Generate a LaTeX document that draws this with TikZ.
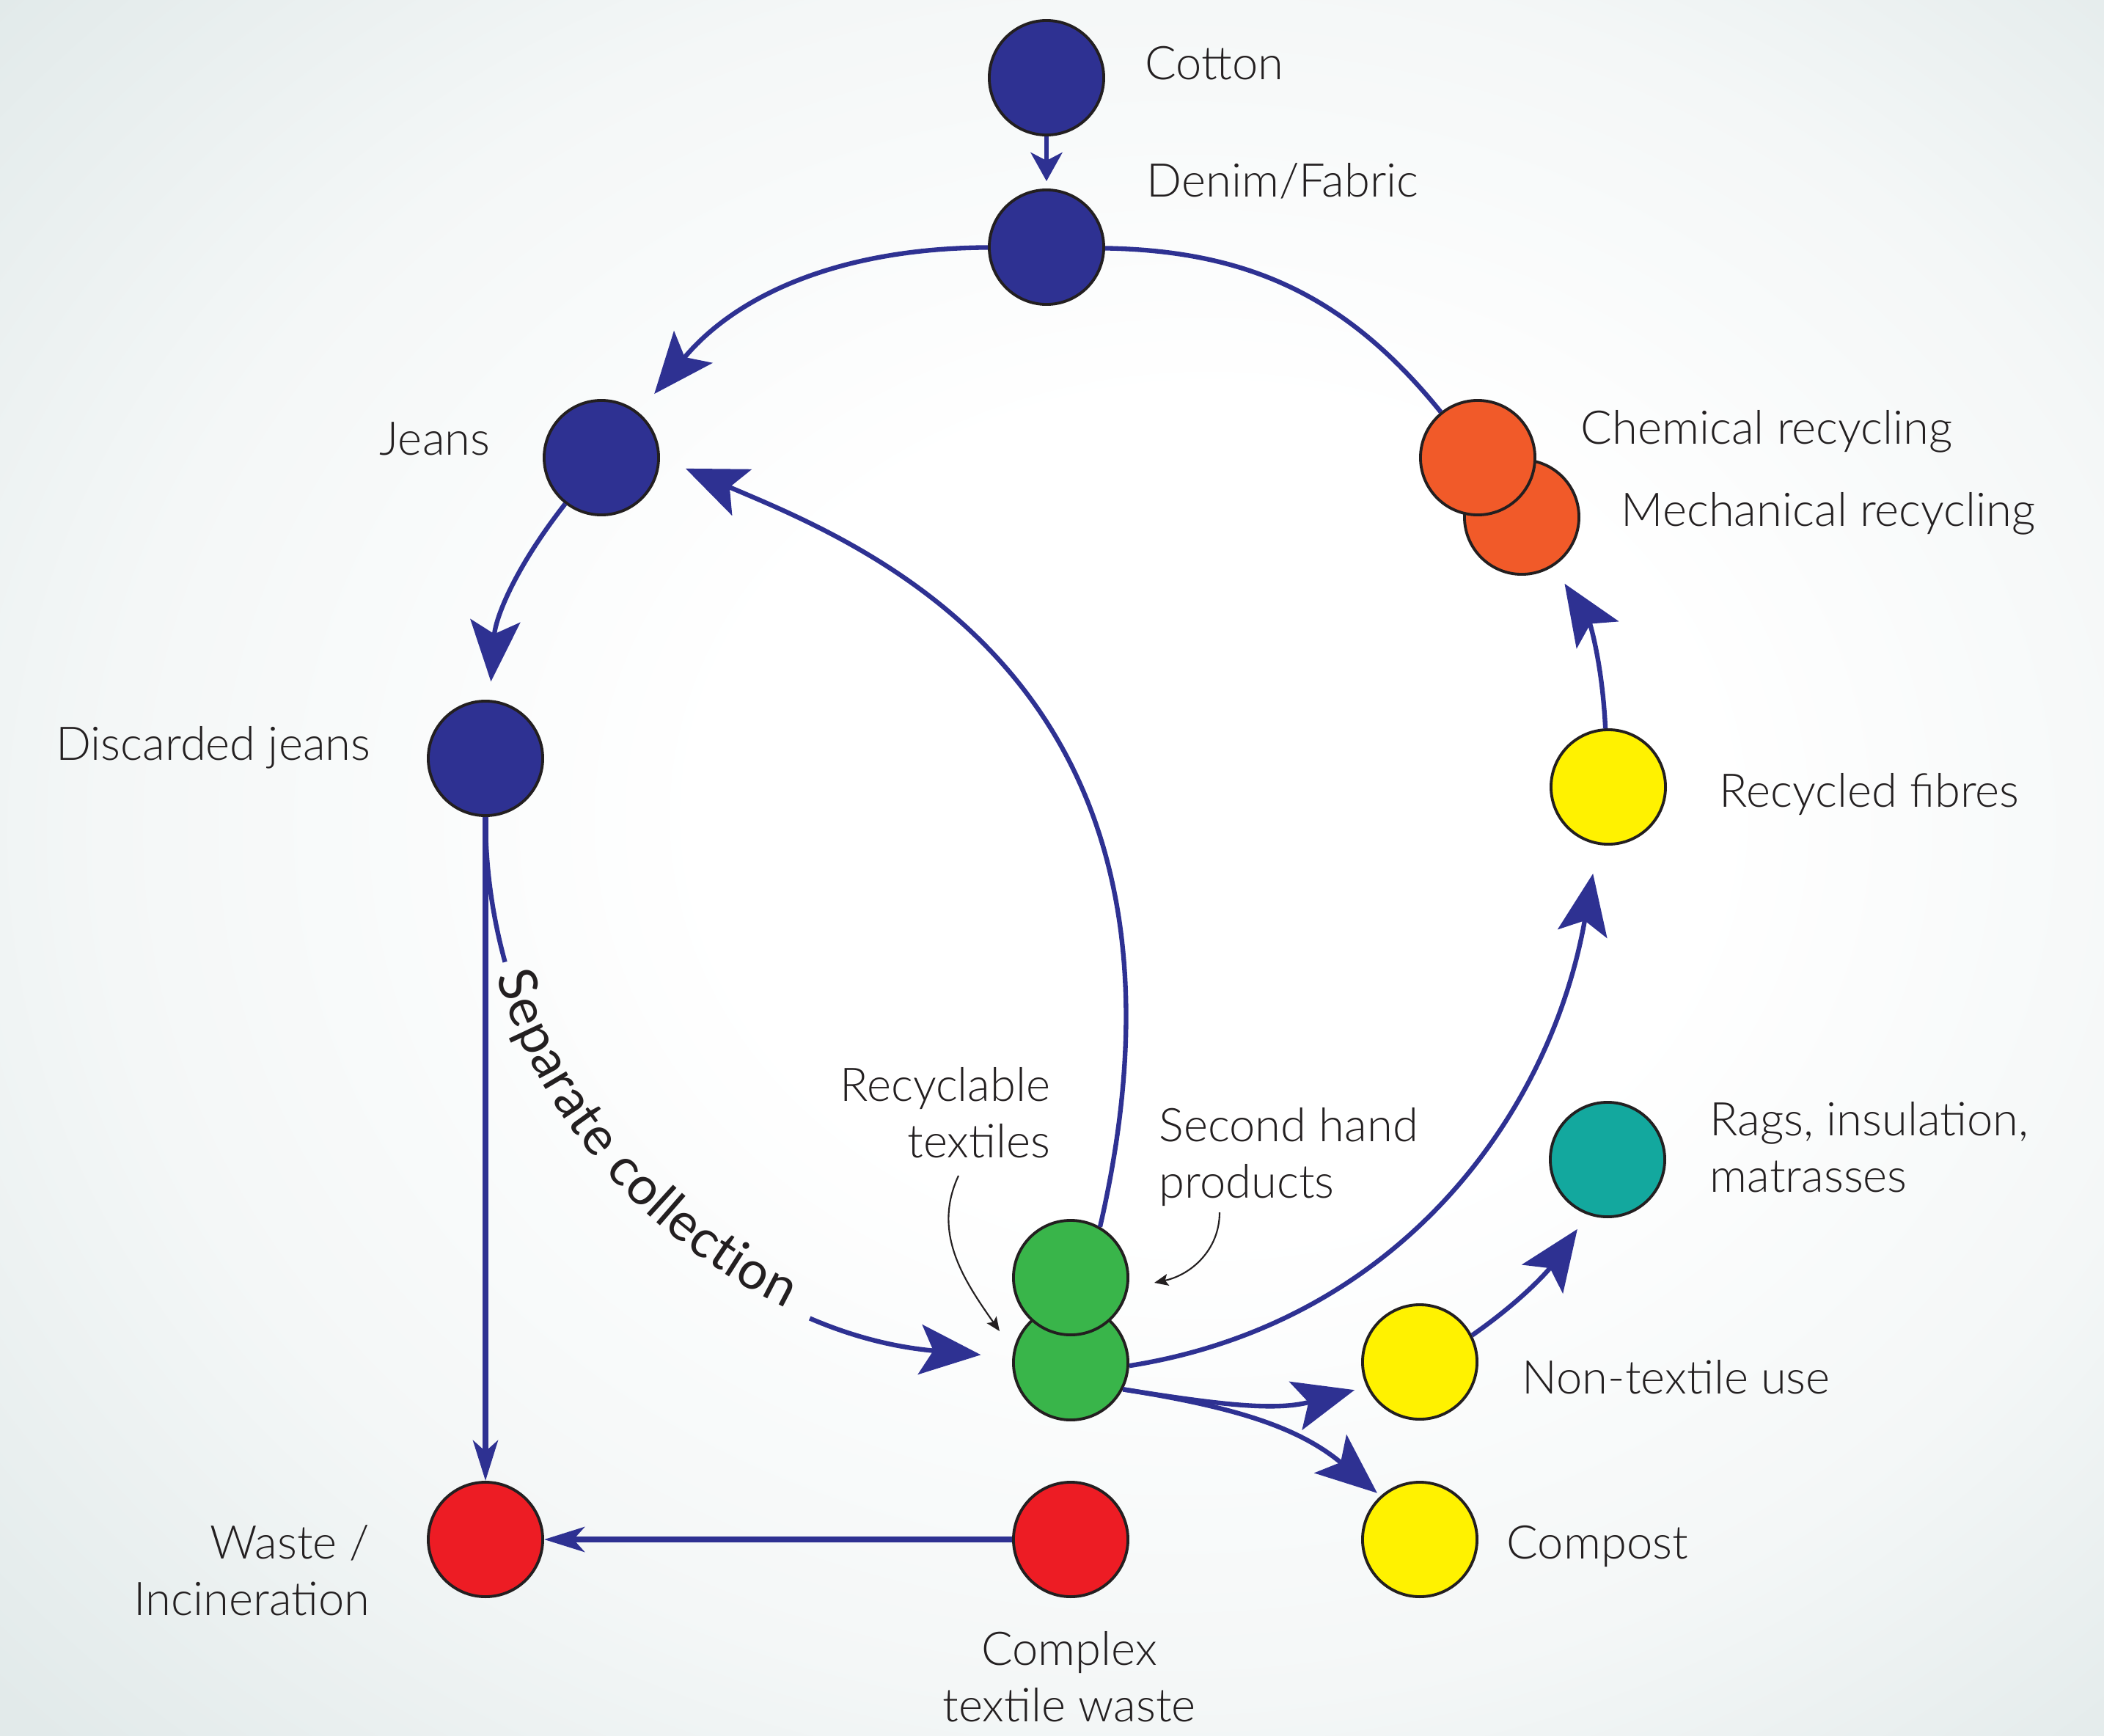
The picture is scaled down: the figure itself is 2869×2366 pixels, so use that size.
\documentclass[tikz,border=0pt]{standalone}
\usepackage{fontspec}
\IfFontExistsTF{Lato Light}{\setmainfont{Lato Light}}{\setmainfont{Lato}}
\newfontfamily\sepfont{Lato}
\usetikzlibrary{arrows.meta,decorations.text}

\definecolor{denimblue}{HTML}{2E3192}
\definecolor{wastered}{HTML}{ED1C24}
\definecolor{reusegreen}{HTML}{39B54A}
\definecolor{recycorange}{HTML}{F15A29}
\definecolor{fibreyellow}{HTML}{FFF200}
\definecolor{ragteal}{HTML}{13A89E}
\definecolor{ink}{HTML}{231F20}
\definecolor{bgmid}{RGB}{244,247,247}
\definecolor{bgedge}{RGB}{226,234,234}

\pgfdeclareradialshading{bgshade}{\pgfpoint{5bp}{2bp}}{color(0bp)=(white); color(12bp)=(white); color(25bp)=(bgmid); color(36bp)=(bgedge); color(50bp)=(bgedge)}

\newcommand\lblfont{\fontsize{18}{21.8}\selectfont}
\newcommand\sepstyle{\sepfont\fontsize{20.5}{24}\selectfont\color{ink}}

\tikzset{
  dot/.style={circle, draw=ink, line width=1.1pt, minimum size=1.56cm, inner sep=0pt},
  lbl/.style={text=ink, font=\lblfont, inner sep=0pt},
  link/.style={draw=denimblue, line width=1.8pt},
  flow/.style={link, -{Stealth[length=8.3mm, width=6.8mm, inset=1.8mm]}},
  feed/.style={link, -{Stealth[length=3.9mm, width=4.3mm, inset=1.1mm]}},
  dump/.style={draw=denimblue, line width=2.2pt, -{Stealth[length=5.5mm, width=3.4mm, inset=1.5mm]}},
  note/.style={draw=ink, line width=0.6pt, -{Stealth[length=1.9mm, width=1.6mm, inset=0.4mm]}}
}

\begin{document}
\begin{tikzpicture}[x=0.01cm, y=0.01cm]
  % background
  \useasboundingbox (0,0) rectangle (2869,-2366);
  \shade[shading=bgshade] (0,0) rectangle (2869,-2366);

  % circles
  \node[dot, fill=denimblue] (cotton) at (1427,-106) {};
  \node[dot, fill=denimblue] (denim) at (1427,-337) {};
  \node[dot, fill=denimblue] (jeans) at (820,-624) {};
  \node[dot, fill=denimblue] (disc) at (662,-1034) {};
  \node[dot, fill=wastered] (waste) at (662,-2099) {};
  \node[dot, fill=wastered] (cplx) at (1460,-2099) {};
  \node[dot, fill=reusegreen] (rec) at (1460,-1858) {};
  \node[dot, fill=reusegreen] (shd) at (1460,-1742) {};
  \node[dot, fill=recycorange] (mech) at (2075,-705) {};
  \node[dot, fill=recycorange] (chem) at (2015,-624) {};
  \node[dot, fill=fibreyellow] (fib) at (2193,-1073) {};
  \node[dot, fill=ragteal] (rags) at (2192,-1581) {};
  \node[dot, fill=fibreyellow] (ntx) at (1936,-1857) {};
  \node[dot, fill=fibreyellow] (comp) at (1936,-2099) {};

  % labels (multi-line ones sit on their last baseline)
  \node[lbl, anchor=base west] (cotton-l) at (1561,-108) {Cotton};
  \node[lbl, anchor=base west] (denim-l) at (1563,-268) {Denim/Fabric};
  \node[lbl, anchor=base east] (jeans-l) at (669,-620) {Jeans};
  \node[lbl, anchor=base east] (disc-l) at (506,-1036) {Discarded jeans};
  \node[lbl, anchor=base west] (chem-l) at (2155,-605) {Chemical recycling};
  \node[lbl, anchor=base west] (mech-l) at (2210,-717) {Mechanical recycling};
  \node[lbl, anchor=base west] (fib-l) at (2344,-1100) {Recycled fibres};
  \node[lbl, anchor=base east, align=right] (rec-l) at (1433,-1578) {Recyclable\\textiles};
  \node[lbl, anchor=base west, align=left] (shd-l) at (1580,-1633) {Second hand\\products};
  \node[lbl, anchor=base west, align=left] (rags-l) at (2331,-1625) {Rags, insulation,\\matrasses};
  \node[lbl, anchor=base west] (ntx-l) at (2075,-1900) {Non-textile use};
  \node[lbl, anchor=base west] (comp-l) at (2054,-2125) {Compost};
  \node[lbl, anchor=base east, align=right] (waste-l) at (505,-2202) {Waste /\\Incineration};
  \node[lbl, anchor=base, align=center] (cplx-l) at (1458,-2347) {Complex\\textile waste};

  % flows
  \draw[feed, shorten >=0.1cm] (cotton) -- (denim);
  \draw[flow, shorten >=0.33cm] (denim) to[bend right=25] (jeans);
  \draw[link] (denim) to[bend left=25] (chem);
  \draw[flow, shorten >=0.25cm] (jeans) to[bend right=17] (disc);
  \draw[dump] (disc) -- (waste);
  \draw[dump] (cplx) -- (waste);
  \draw[flow, shorten >=0.43cm, dash pattern=on 2cm off 6.6cm on 20cm] (disc) to[out=-90, in=175] (rec);
  \path[decorate, decoration={text along path, text={|\sepstyle|Separate collection},
    text align={left indent=2.15cm}, raise=-5pt}] (disc) to[out=-90, in=175] (rec);
  \draw[flow, shorten >=0.38cm] (shd.60) to[out=77, in=-23, out looseness=1.6, in looseness=0.66] (jeans.east);
  \draw[flow, shorten >=0.4cm] (rec.-3) to[out=9, in=-100] (fib);
  \draw[flow, shorten >=0.28cm] (fib) to[bend right=15] (mech);
  \draw[flow, shorten >=0.17cm] (rec.-27) to[out=-9, in=195] (ntx.205);
  \draw[flow, shorten >=0.06cm] (rec.-27) to[out=-9, in=140] (comp.132);
  \draw[flow, shorten >=0.24cm] (ntx.27) to[out=35, in=235] (rags.250);

  % pointers
  \coordinate (rec-a) at (1307,-1603);
  \coordinate (rec-b) at (1363,-1815);
  \coordinate (shd-a) at (1663,-1653);
  \coordinate (shd-b) at (1574,-1749);
  \draw[note] (rec-a) to[out=-115, in=125] (rec-b);
  \draw[note] (shd-a) to[out=-90, in=12] (shd-b);
\end{tikzpicture}
\end{document}
